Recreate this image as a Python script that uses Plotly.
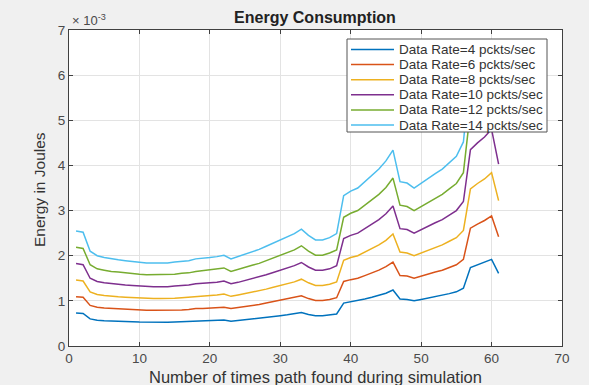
import plotly.graph_objects as go

# ---------------- data (values in units of 1e-3 J) ----------------
x_vals = list(range(1, 62))

rate_4 = [0.73, 0.72, 0.60, 0.57, 0.56, 0.55, 0.545, 0.54, 0.535, 0.53,
          0.525, 0.525, 0.525, 0.525, 0.53, 0.535, 0.54, 0.55, 0.555, 0.56,
          0.565, 0.575, 0.55, 0.565, 0.58, 0.595, 0.61, 0.63, 0.65, 0.67,
          0.69, 0.71, 0.74, 0.70, 0.67, 0.67, 0.685, 0.71, 0.95, 0.98,
          1.00, 1.04, 1.08, 1.12, 1.17, 1.24, 1.04, 1.03, 1.00, 1.03,
          1.06, 1.09, 1.12, 1.16, 1.20, 1.28, 1.74, 1.80, 1.85, 1.92, 1.61]

rate_6 = [1.09, 1.08, 0.90, 0.86, 0.84, 0.83, 0.82, 0.81, 0.80, 0.80,
          0.79, 0.79, 0.79, 0.79, 0.80, 0.80, 0.81, 0.83, 0.83, 0.84,
          0.85, 0.86, 0.83, 0.85, 0.87, 0.89, 0.92, 0.95, 0.98, 1.01,
          1.04, 1.07, 1.11, 1.05, 1.01, 1.01, 1.03, 1.07, 1.43, 1.47,
          1.50, 1.56, 1.62, 1.68, 1.76, 1.86, 1.56, 1.55, 1.50, 1.55,
          1.59, 1.64, 1.68, 1.74, 1.80, 1.92, 2.61, 2.70, 2.78, 2.88, 2.42]

rate_8 = [1.46, 1.44, 1.20, 1.14, 1.12, 1.10, 1.09, 1.08, 1.07, 1.06,
          1.05, 1.05, 1.05, 1.05, 1.06, 1.07, 1.08, 1.10, 1.11, 1.12,
          1.13, 1.15, 1.10, 1.13, 1.16, 1.19, 1.22, 1.26, 1.30, 1.34,
          1.38, 1.42, 1.48, 1.40, 1.34, 1.34, 1.37, 1.42, 1.90, 1.96,
          2.00, 2.08, 2.16, 2.24, 2.34, 2.48, 2.08, 2.06, 2.00, 2.06,
          2.12, 2.18, 2.24, 2.32, 2.40, 2.56, 3.48, 3.60, 3.70, 3.84, 3.22]

rate_10 = [1.83, 1.80, 1.50, 1.43, 1.40, 1.38, 1.36, 1.35, 1.34, 1.33,
           1.31, 1.31, 1.31, 1.31, 1.33, 1.34, 1.35, 1.38, 1.39, 1.40,
           1.41, 1.44, 1.38, 1.41, 1.45, 1.49, 1.53, 1.58, 1.63, 1.68,
           1.73, 1.78, 1.85, 1.75, 1.68, 1.68, 1.71, 1.78, 2.38, 2.45,
           2.50, 2.60, 2.70, 2.80, 2.93, 3.10, 2.60, 2.58, 2.50, 2.58,
           2.65, 2.73, 2.80, 2.90, 3.00, 3.20, 4.35, 4.50, 4.63, 4.80, 4.03]

rate_12 = [2.19, 2.16, 1.80, 1.71, 1.68, 1.65, 1.64, 1.62, 1.61, 1.59,
           1.58, 1.58, 1.58, 1.58, 1.59, 1.61, 1.62, 1.65, 1.67, 1.68,
           1.70, 1.73, 1.65, 1.70, 1.74, 1.79, 1.83, 1.89, 1.95, 2.01,
           2.07, 2.13, 2.22, 2.10, 2.01, 2.01, 2.06, 2.13, 2.85, 2.94,
           3.00, 3.12, 3.24, 3.36, 3.51, 3.72, 3.12, 3.09, 3.00, 3.09,
           3.18, 3.27, 3.36, 3.48, 3.60, 3.84, 5.22, 5.40, 5.55, 5.76, 4.83]

rate_14 = [2.55, 2.52, 2.10, 2.00, 1.96, 1.93, 1.91, 1.89, 1.87, 1.86,
           1.84, 1.84, 1.84, 1.84, 1.86, 1.87, 1.89, 1.93, 1.94, 1.96,
           1.98, 2.01, 1.93, 1.98, 2.03, 2.08, 2.14, 2.21, 2.28, 2.35,
           2.42, 2.49, 2.59, 2.45, 2.35, 2.35, 2.40, 2.49, 3.33, 3.43,
           3.50, 3.64, 3.78, 3.92, 4.10, 4.34, 3.64, 3.61, 3.50, 3.61,
           3.71, 3.82, 3.92, 4.06, 4.20, 4.52, 6.09, 6.30, 6.48, 6.72, 5.64]

series_names = ["Data Rate=4 pckts/sec", "Data Rate=6 pckts/sec",
                "Data Rate=8 pckts/sec", "Data Rate=10 pckts/sec",
                "Data Rate=12 pckts/sec", "Data Rate=14 pckts/sec"]
series_values = [rate_4, rate_6, rate_8, rate_10, rate_12, rate_14]
series_colors = ["#0072BD", "#D95319", "#EDB120", "#7E2F8E", "#77AC30", "#4DBEEE"]

x_ticks = [0, 10, 20, 30, 40, 50, 60, 70]
y_ticks = [0, 1, 2, 3, 4, 5, 6, 7]

# ---------------- figure ----------------
W, H = 589, 385
ML, MR, MT, MB = 69, 27, 30, 39
PW, PH = W - ML - MR, H - MT - MB

def px_x(p):
    return (p - ML) / PW

def px_y(p):
    return (H - MB - p) / PH

fig = go.Figure()
for name, vals, col in zip(series_names, series_values, series_colors):
    fig.add_trace(go.Scatter(x=x_vals, y=vals, mode="lines", name=name,
                             line=dict(color=col, width=1.5), showlegend=False))

font_fam = "Liberation Sans, Arial, sans-serif"
axis_col = "#404040"

common_axis = dict(
    showgrid=True, gridcolor="#E3E3E3", gridwidth=1,
    showline=True, linecolor=axis_col, linewidth=1, mirror="ticks",
    ticks="inside", ticklen=4, tickcolor=axis_col, zeroline=False,
    tickfont=dict(family=font_fam, size=13.5, color="#4a4a4a"),
)

fig.update_xaxes(range=[0, 70], tickvals=x_ticks, ticktext=[str(v) for v in x_ticks],
                 **common_axis)
fig.update_yaxes(range=[0, 7], tickvals=y_ticks, ticktext=[str(v) for v in y_ticks],
                 **common_axis)

# manual legend (compact, MATLAB-like)
leg_left, leg_right, leg_top, leg_bottom = 347, 547, 39, 132
row0, row_gap = 49.5, 15.1
shapes = [dict(type="rect", xref="paper", yref="paper", layer="above",
               x0=px_x(leg_left), x1=px_x(leg_right),
               y0=px_y(leg_bottom), y1=px_y(leg_top),
               line=dict(color="#555555", width=1), fillcolor="white")]
annotations = []
for i, (name, col) in enumerate(zip(series_names, series_colors)):
    yy = px_y(row0 + i * row_gap)
    shapes.append(dict(type="line", xref="paper", yref="paper", layer="above",
                       x0=px_x(351), x1=px_x(394), y0=yy, y1=yy,
                       line=dict(color=col, width=1.5)))
    annotations.append(dict(xref="paper", yref="paper", x=px_x(397), y=yy,
                            xanchor="left", yanchor="middle", showarrow=False,
                            text=name, font=dict(family=font_fam, size=13.5, color="#333333")))

# exponent multiplier
annotations.append(dict(xref="paper", yref="paper", x=px_x(70), y=px_y(30),
                        xanchor="left", yanchor="bottom", showarrow=False,
                        text="× 10<sup>-3</sup>",
                        font=dict(family=font_fam, size=13, color="#4a4a4a")))
# axis titles
annotations.append(dict(xref="paper", yref="paper", x=px_x(315), y=px_y(377),
                        xanchor="center", yanchor="middle", showarrow=False,
                        text="Number of times path found during simulation",
                        font=dict(family=font_fam, size=16.5, color="#333333")))
annotations.append(dict(xref="paper", yref="paper", x=px_x(39), y=px_y(190),
                        xanchor="center", yanchor="middle", showarrow=False,
                        textangle=-90, text="Energy in Joules",
                        font=dict(family=font_fam, size=15.5, color="#333333")))

fig.update_layout(
    width=W, height=H,
    margin=dict(l=ML, r=MR, t=MT, b=MB, autoexpand=False),
    paper_bgcolor="#F0F0F0", plot_bgcolor="white",
    title=dict(text="<b>Energy Consumption</b>", x=315 / W,
               xanchor="center", y=1 - 17 / H, yanchor="middle",
               font=dict(family=font_fam, size=16, color="#222222")),
    shapes=shapes, annotations=annotations,
    showlegend=False,
)

fig.write_html("out.html", config={"displayModeBar": False},
               post_script="document.body.style.margin='0';")
